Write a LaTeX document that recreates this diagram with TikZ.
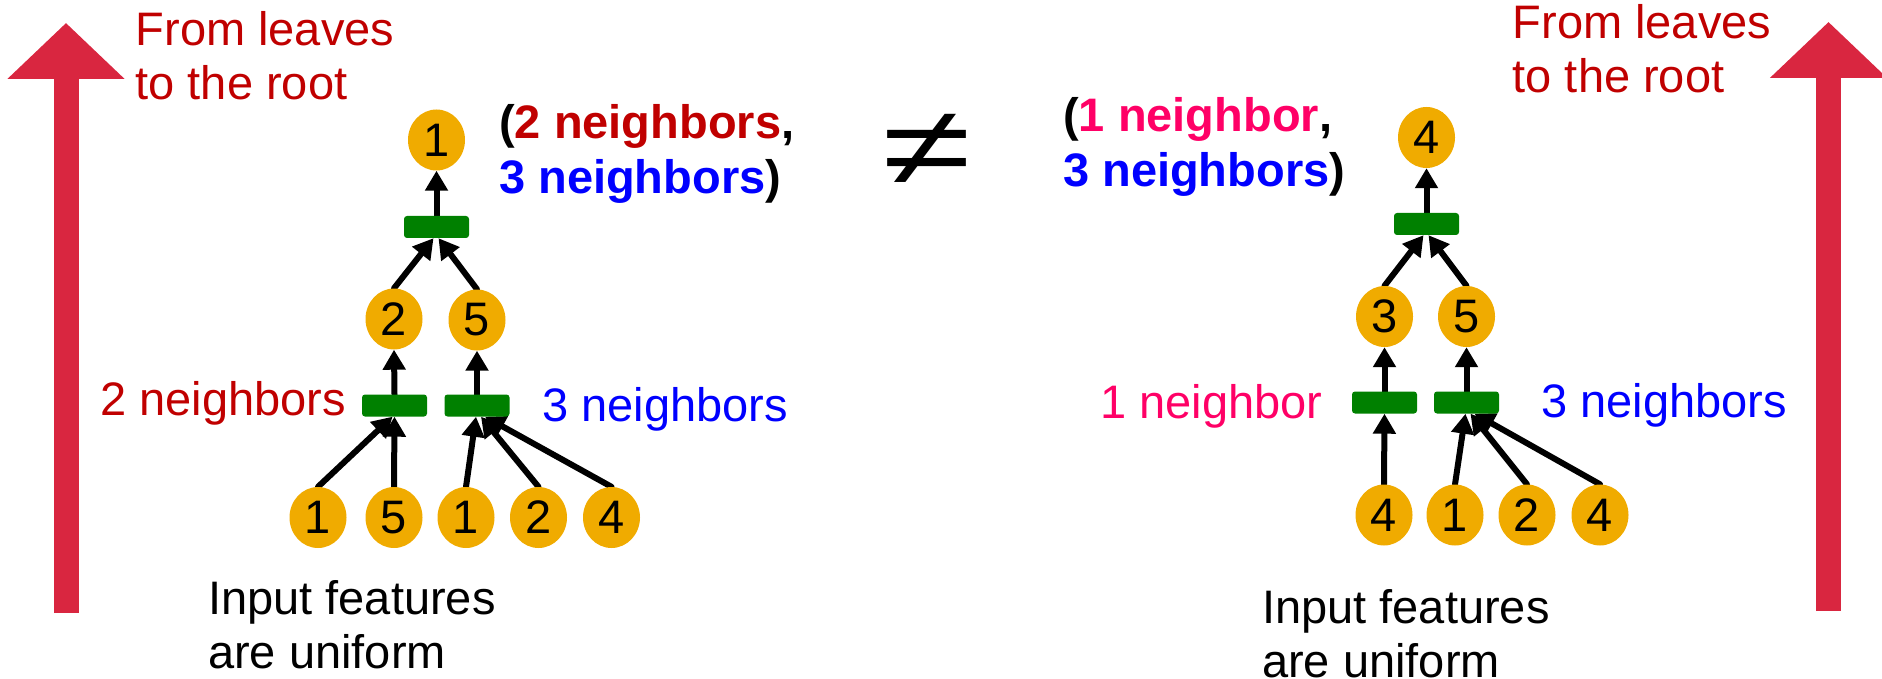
\documentclass[tikz,border=0pt]{standalone}
\usepackage{fontspec}
\setmainfont{Liberation Sans}
\usetikzlibrary{shapes.geometric,arrows.meta,positioning,backgrounds}
\definecolor{rootred}{RGB}{217,38,64}
\definecolor{labelred}{RGB}{192,0,0}
\definecolor{labelblue}{RGB}{0,0,255}
\definecolor{labelpink}{RGB}{255,0,102}
\definecolor{featorange}{RGB}{240,171,0}
\definecolor{aggreen}{RGB}{0,128,0}

\begin{document}
\begin{tikzpicture}[x=1pt,y=-1pt,
feat/.style={ellipse, fill=featorange, minimum width=57pt, minimum height=61pt,
  inner sep=0pt, font=\fontsize{47}{54}\selectfont},
agg/.style={rectangle, rounded corners=3pt, fill=aggreen,
  minimum width=65pt, minimum height=22pt, inner sep=0pt},
arr/.style={line width=6pt, line cap=round, -{Triangle[width=22pt,length=20pt]}},
bigarr/.style={draw=rootred, line width=25pt, -{Triangle[width=114pt,length=56pt]}},
lbl/.style={inner sep=0pt, anchor=base west, align=left, font=\fontsize{47}{54}\selectfont},
pair/.style={lbl, font=\fontsize{47}{55}\selectfont\bfseries}
]
\useasboundingbox (0,0) rectangle (1882,679);

% ================= LEFT: FROM LEAVES TO THE ROOT =================
\coordinate (lbot) at (66,613);
\coordinate (ltop) at (66,23);
\draw[bigarr] (lbot) -- (ltop);
\node[lbl, text=labelred] (ltitle) at (135.5,100) {From leaves\\to the root};

% left tree
\node[feat] (aroot) at (436.5,140) {1};
\node[agg] (atop) at (436.5,227) {};
\node[feat] (amid1) at (394,319) {2};
\node[feat] (amid2) at (477,320) {5};
\node[agg] (aagg1) at (394.5,405.5) {};
\node[agg] (aagg2) at (477,405.5) {};
\node[feat] (aleaf1) at (318,517.5) {1};
\node[feat] (aleaf2) at (394,517.5) {5};
\node[feat] (aleaf3) at (466,517.5) {1};
\node[feat] (aleaf4) at (538.5,517.5) {2};
\node[feat] (aleaf5) at (611.5,517.5) {4};

\node[lbl, text=labelred] (ared) at (100,415) {2 neighbors};
\node[lbl, text=labelblue] (ablue) at (542,421) {3 neighbors};
\node[pair] (apair) at (499,194)
{(\textcolor{labelred}{2 neighbors},\\\textcolor{labelblue}{3 neighbors})};
\node[lbl] (ainput) at (208,668) {Input features\\are uniform};

\begin{scope}[on background layer]
\draw[arr] (atop.north) -- (aroot.south);
\draw[arr] (amid1.north) -- ([xshift=-3pt]atop.south);
\draw[arr] (amid2.north) -- ([xshift=2pt]atop.south);
\draw[arr] (aagg1.north) -- (amid1.south);
\draw[arr] (aagg2.north) -- (amid2.south);
\draw[arr] (aleaf1.north) -- ([xshift=-2pt]aagg1.south);
\draw[arr] (aleaf2.north) -- (aagg1.south);
\draw[arr] (aleaf3.north) -- ([xshift=-1pt]aagg2.south);
\draw[arr] (aleaf4.north) -- ([xshift=4pt]aagg2.south);
\draw[arr] (aleaf5.north) -- ([xshift=8pt]aagg2.south);
\end{scope}

% ================= NOT EQUAL =================
\node[inner sep=0pt, font=\fontsize{150}{150}\selectfont] (neq) at (927,150)
{\scalebox{1.08}[0.75]{≠}};

% ================= RIGHT: FROM LEAVES TO THE ROOT =================
\coordinate (rbot) at (1828.5,611);
\coordinate (rtop) at (1828.5,22);
\draw[bigarr] (rbot) -- (rtop);
\node[lbl, text=labelred] (rtitle) at (1512.5,93) {From leaves\\to the root};

% right tree
\node[feat] (broot) at (1426.5,137.5) {4};
\node[agg] (btop) at (1426.5,224) {};
\node[feat] (bmid1) at (1384.5,316.5) {3};
\node[feat] (bmid2) at (1466.5,316.5) {5};
\node[agg] (bagg1) at (1384.5,402.5) {};
\node[agg] (bagg2) at (1466.5,402.5) {};
\node[feat] (bleaf1) at (1384,515) {4};
\node[feat] (bleaf2) at (1455,515) {1};
\node[feat] (bleaf3) at (1527,515) {2};
\node[feat] (bleaf4) at (1600,515) {4};

\node[lbl, text=labelpink] (bpink) at (1100,418) {1 neighbor};
\node[lbl, text=labelblue] (bblue) at (1541,417) {3 neighbors};
\node[pair] (bpair) at (1063,187)
{(\textcolor{labelpink}{1 neighbor},\\\textcolor{labelblue}{3 neighbors})};
\node[lbl] (binput) at (1262,677) {Input features\\are uniform};

\begin{scope}[on background layer]
\draw[arr] (btop.north) -- (broot.south);
\draw[arr] (bmid1.north) -- ([xshift=-3pt]btop.south);
\draw[arr] (bmid2.north) -- ([xshift=2pt]btop.south);
\draw[arr] (bagg1.north) -- (bmid1.south);
\draw[arr] (bagg2.north) -- (bmid2.south);
\draw[arr] (bleaf1.north) -- (bagg1.south);
\draw[arr] (bleaf2.north) -- ([xshift=-1pt]bagg2.south);
\draw[arr] (bleaf3.north) -- ([xshift=4pt]bagg2.south);
\draw[arr] (bleaf4.north) -- ([xshift=8pt]bagg2.south);
\end{scope}
\end{tikzpicture}
\end{document}
